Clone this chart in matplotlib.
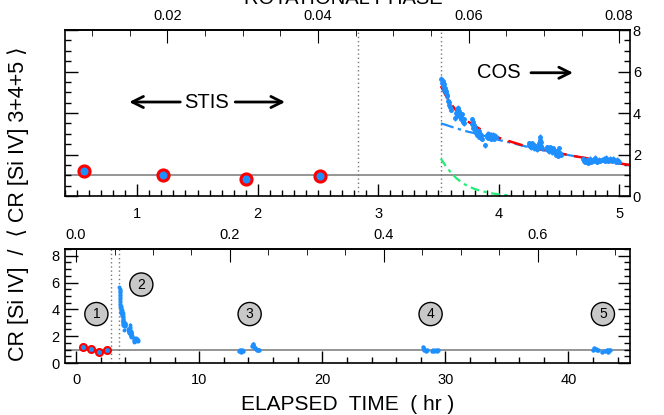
import numpy as np
import matplotlib
matplotlib.use('Agg')
import matplotlib.pyplot as plt
from matplotlib.ticker import MultipleLocator, FixedLocator, FormatStrFormatter

plt.rcParams['font.family'] = ['Liberation Sans', 'DejaVu Sans']

# periodo de rotacion (hr) para el eje de fase
periodo = 62.5

# STIS: cuatro puntos
stis_t = [0.56, 1.21, 1.90, 2.52]
stis_y = [1.22, 1.01, 0.83, 0.98]

# COS visita 2 (decaimiento)
cos2_t = [3.525, 3.530, 3.535, 3.540, 3.545, 3.550, 3.555, 3.560, 3.565, 3.570, 3.575, 3.580, 3.585, 3.590, 3.595, 3.600,
          3.640, 3.645, 3.650, 3.655, 3.660, 3.665, 3.670, 3.675, 3.680, 3.685, 3.690, 3.695, 3.700, 3.705, 3.710, 3.715,
          3.775, 3.780, 3.785, 3.790, 3.795, 3.800, 3.805, 3.810, 3.815, 3.820, 3.825, 3.830, 3.835, 3.840, 3.845, 3.850, 3.855, 3.860,
          3.890,
          3.900, 3.905, 3.910, 3.915, 3.920, 3.925, 3.930, 3.935, 3.940, 3.945, 3.950, 3.955, 3.960, 3.965, 3.970, 3.975,
          4.250, 4.255, 4.260, 4.265, 4.270, 4.275, 4.280, 4.285, 4.290, 4.295, 4.300, 4.305, 4.310, 4.315, 4.320, 4.325,
          4.330, 4.335, 4.340, 4.345, 4.350, 4.355, 4.360,
          4.400, 4.405, 4.410, 4.415, 4.420, 4.425, 4.430, 4.435, 4.440, 4.445, 4.450, 4.455, 4.460, 4.465, 4.470, 4.475,
          4.480, 4.485, 4.490, 4.495, 4.500, 4.510, 4.520,
          4.70, 4.71, 4.72, 4.73, 4.74, 4.75, 4.76, 4.77, 4.78, 4.79, 4.80, 4.81, 4.82, 4.83, 4.84,
          4.86, 4.87, 4.88, 4.89, 4.90, 4.91, 4.92, 4.93, 4.94, 4.95, 4.96, 4.97, 4.98, 4.99, 5.00]
cos2_y = [5.65, 5.45, 5.55, 5.30, 5.40, 5.10, 5.20, 4.95, 5.05, 4.80, 4.85, 4.60, 4.55, 4.40, 4.30, 4.15,
          3.75, 4.00, 4.20, 3.90, 4.25, 3.95, 4.10, 3.80, 3.95, 3.70, 3.85, 3.95, 3.65, 3.55, 3.70, 3.50,
          3.70, 3.45, 3.55, 3.30, 3.40, 3.15, 3.30, 3.05, 3.20, 2.95, 3.10, 3.00, 3.15, 2.85, 3.00, 2.80, 2.95, 2.75,
          2.45,
          2.85, 2.95, 3.00, 2.80, 2.90, 2.95, 2.85, 2.75, 2.95, 2.90, 2.80, 2.95, 2.85, 2.75, 2.90, 2.85,
          2.45, 2.55, 2.40, 2.50, 2.35, 2.45, 2.55, 2.40, 2.30, 2.45, 2.35, 2.40, 2.30, 2.35, 2.25, 2.40,
          2.30, 2.55, 2.70, 2.85, 2.60, 2.40, 2.30,
          2.25, 2.35, 2.20, 2.30, 2.15, 2.25, 2.35, 2.20, 2.10, 2.25, 2.30, 2.15, 2.20, 2.05, 2.10, 2.00,
          2.15, 2.05, 1.95, 2.10, 2.30, 2.05, 2.00,
          1.80, 1.70, 1.65, 1.75, 1.60, 1.70, 1.80, 1.65, 1.70, 1.75, 1.85, 1.70, 1.65, 1.75, 1.70,
          1.75, 1.80, 1.70, 1.85, 1.75, 1.70, 1.80, 1.75, 1.70, 1.80, 1.75, 1.65, 1.75, 1.70, 1.65]

# COS visitas 3, 4 y 5
cos3_t = [13.2, 13.3, 13.4, 13.5, 13.6, 14.3, 14.35, 14.4, 14.45, 14.5, 14.6, 14.7, 14.8, 14.9]
cos3_y = [0.90, 0.95, 0.85, 0.95, 0.90, 1.25, 1.45, 1.35, 1.20, 1.10, 1.05, 1.00, 0.95, 0.95]
cos4_t = [28.2, 28.25, 28.3, 28.4, 28.5, 28.9, 29.0, 29.1, 29.2, 29.3, 29.4]
cos4_y = [1.20, 1.05, 0.95, 0.90, 0.95, 0.90, 0.95, 0.90, 0.95, 0.90, 0.95]
cos5_t = [42.0, 42.1, 42.2, 42.3, 42.4, 42.7, 43.0, 43.1, 43.2, 43.3, 43.4]
cos5_y = [1.00, 1.10, 1.05, 0.95, 1.00, 0.85, 0.90, 0.95, 0.85, 0.95, 1.00]

# curvas de ajuste
fit_t = [3.52, 3.56, 3.60, 3.65, 3.70, 3.75, 3.80, 3.85, 3.90, 3.95, 4.00, 4.10, 4.20, 4.40, 4.60, 4.80, 5.00, 5.10]
fit_total = [5.30, 4.85, 4.47, 4.10, 3.81, 3.57, 3.38, 3.21, 3.06, 2.93, 2.81, 2.62, 2.44, 2.18, 1.95, 1.75, 1.57, 1.49]
fit_lento = [3.50, 3.43, 3.35, 3.26, 3.17, 3.09, 3.03, 2.94, 2.87, 2.81, 2.70, 2.57, 2.42, 2.17, 1.95, 1.75, 1.57, 1.49]
fit_rapido_t = [3.52, 3.56, 3.60, 3.65, 3.70, 3.75, 3.80, 3.85, 3.90, 3.95, 4.00, 4.05, 4.10]
fit_rapido = [1.80, 1.45, 1.15, 0.85, 0.62, 0.46, 0.34, 0.25, 0.18, 0.12, 0.08, 0.05, 0.03]

# limites de las bandas de observacion
lineas_v = [2.83, 3.52]

# marcas del eje de fase
fase_arriba = [0.02, 0.04, 0.06, 0.08]
fase_abajo = [0.0, 0.2, 0.4, 0.6]

etiquetas_visita = ['1', '2', '3', '4', '5']
visita_t = [1.65, 5.3, 14.1, 28.8, 42.8]
visita_y = [3.65, 5.85, 3.65, 3.65, 3.65]

azul = '#1e8fff'
gris = '#8c8c8c'

fig = plt.figure(figsize=(6.64, 4.15), dpi=100)
ax1 = fig.add_axes([0.0979, 0.5277, 0.8509, 0.4000])
ax2 = fig.add_axes([0.0979, 0.1253, 0.8509, 0.2747])

def t2fase(t):
    return np.asarray(t) / periodo

def fase2t(f):
    return np.asarray(f) * periodo

for ax in (ax1, ax2):
    ax.axhline(1.0, color=gris, lw=1.3, zorder=1)
    for xv in lineas_v:
        ax.axvline(xv, color='#777777', ls=(0, (1, 2)), lw=1.0, zorder=1)
    for s in ax.spines.values():
        s.set_linewidth(1.2)
    ax.tick_params(which='both', direction='in', top=False, right=True, labelsize=10.5, width=1.0)
    ax.tick_params(which='major', length=9)
    ax.tick_params(which='minor', length=4.5)
    ax.yaxis.set_major_locator(MultipleLocator(2))
    ax.yaxis.set_minor_locator(MultipleLocator(0.5))

# --- panel superior ---
ax1.plot(fit_t, fit_lento, color=azul, ls=(0, (6, 2, 1.5, 2)), lw=1.6, zorder=2)
ax1.plot(fit_t, fit_total, color='red', ls=(0, (6, 3)), lw=1.8, zorder=2)
ax1.plot(fit_rapido_t, fit_rapido, color='#22ee77', ls=(0, (4, 2, 1.5, 2)), lw=1.6, zorder=2)
ax1.errorbar(cos2_t, cos2_y, yerr=0.12, fmt='o', ms=2.5, color=azul, ecolor=azul,
             elinewidth=1.0, capsize=0, zorder=3)
ax1.plot(stis_t, stis_y, 'o', ms=8, mfc=azul, mec='red', mew=2.2, ls='none', zorder=4)
ax1.set_xlim(0.4, 5.09)
ax1.set_ylim(0, 8)
ax1.xaxis.set_major_locator(MultipleLocator(1))
ax1.xaxis.set_minor_locator(MultipleLocator(0.1))
ax1.tick_params(axis='x', pad=8)
ax1.tick_params(axis='y', labelleft=False, labelright=True, pad=2)

sec1 = ax1.secondary_xaxis('top', functions=(t2fase, fase2t))
sec1.xaxis.set_major_locator(FixedLocator(fase_arriba))
sec1.xaxis.set_minor_locator(MultipleLocator(0.005))
sec1.tick_params(which='both', direction='in', labelsize=10.5, pad=5)
sec1.tick_params(which='major', length=9)
sec1.tick_params(which='minor', length=4.5)
sec1.spines['top'].set_linewidth(1.2)

flecha = dict(arrowstyle='->', lw=2.0, color='black', mutation_scale=20)
ax1.annotate('', xy=(0.91, 4.53), xytext=(1.38, 4.53), arrowprops=flecha)
ax1.annotate('', xy=(2.25, 4.53), xytext=(1.79, 4.53), arrowprops=flecha)
ax1.text(1.575, 4.53, 'STIS', fontsize=14.5, ha='center', va='center')
ax1.text(4.0, 5.94, 'COS', fontsize=14.5, ha='center', va='center')
ax1.annotate('', xy=(4.64, 5.94), xytext=(4.245, 5.94), arrowprops=flecha)

# --- panel inferior ---
ax2.errorbar(cos2_t, cos2_y, yerr=0.1, fmt='o', ms=1.8, color=azul, ecolor=azul,
             elinewidth=0.9, capsize=0, zorder=3)
for tt, yy in [(cos3_t, cos3_y), (cos4_t, cos4_y), (cos5_t, cos5_y)]:
    ax2.errorbar(tt, yy, yerr=0.08, fmt='o', ms=2.2, color=azul, ecolor=azul,
                 elinewidth=0.8, capsize=0, zorder=3)
ax2.plot(stis_t, stis_y, 'o', ms=5, mfc=azul, mec='red', mew=1.5, ls='none', zorder=4)
ax2.set_xlim(-0.9, 45)
ax2.set_ylim(0, 8.5)
ax2.xaxis.set_major_locator(MultipleLocator(10))
ax2.xaxis.set_minor_locator(MultipleLocator(2))
ax2.tick_params(axis='x', pad=7)
ax2.tick_params(axis='y', pad=4)

for lab, tx, ty in zip(etiquetas_visita, visita_t, visita_y):
    ax2.text(tx, ty, lab, fontsize=10, ha='center', va='center',
             bbox=dict(boxstyle='circle,pad=0.33', fc='#c8c8c8', ec='black', lw=1.0))

sec2 = ax2.secondary_xaxis('top', functions=(t2fase, fase2t))
sec2.xaxis.set_major_locator(FixedLocator(fase_abajo))
sec2.xaxis.set_minor_locator(MultipleLocator(0.05))
sec2.xaxis.set_major_formatter(FormatStrFormatter('%.1f'))
sec2.tick_params(which='both', direction='in', labelsize=10.5, pad=5)
sec2.tick_params(which='major', length=9)
sec2.tick_params(which='minor', length=4.5)
sec2.spines['top'].set_linewidth(1.2)

# textos de ejes
fig.text(0.517, 0.990, 'ROTATIONAL PHASE', fontsize=14.5, ha='center', va='baseline')
fig.text(0.524, 0.002, 'ELAPSED  TIME  ( hr )', fontsize=15, ha='center', va='bottom')
fig.text(0.028, 0.51, 'CR [Si IV]  /  \u27e8 CR [Si IV] 3+4+5 \u27e9', fontsize=15.5,
         rotation=90, ha='center', va='center')

fig.savefig('out.png', dpi=100)
